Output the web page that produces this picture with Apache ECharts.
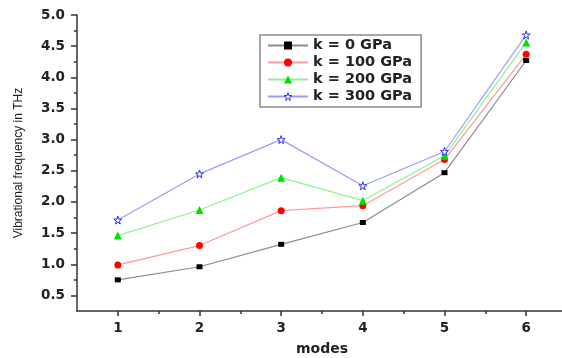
<!DOCTYPE html>
<html>
<head>
<meta charset="utf-8">
<script src="https://cdn.jsdelivr.net/npm/echarts@6/dist/echarts.min.js"></script>
<style>html,body{margin:0;padding:0;background:#fff;}#c{width:562px;height:358px;}</style>
</head>
<body>
<div id="c"></div>
<script>
var modes = [1, 2, 3, 4, 5, 6];
var k0 = [0.75, 0.96, 1.32, 1.67, 2.47, 4.27];
var k100 = [0.99, 1.30, 1.86, 1.94, 2.68, 4.37];
var k200 = [1.46, 1.87, 2.39, 2.02, 2.74, 4.56];
var k300 = [1.71, 2.45, 3.00, 2.26, 2.81, 4.68];
var seriesNames = ['k = 0 GPa', 'k = 100 GPa', 'k = 200 GPa', 'k = 300 GPa'];
var yMajor = [0.5, 1.0, 1.5, 2.0, 2.5, 3.0, 3.5, 4.0, 4.5, 5.0];
var yMinor = [0.75, 1.25, 1.75, 2.25, 2.75, 3.25, 3.75, 4.25, 4.75];
var xMajor = [1, 2, 3, 4, 5, 6];
var xMinor = [1.5, 2.5, 3.5, 4.5, 5.5];

function pairs(arr) { return modes.map(function (m, i) { return [m, arr[i]]; }); }
var star = 'path://M50,0 L61,35 L98,35 L68,57 L79,91 L50,70 L21,91 L32,57 L2,35 L39,35 Z';
var font = 'DejaVu Sans';
var axisCol = '#333';

function mk(name, data, symbol, size, lineCol, markCol, hollow) {
  return {
    name: name, type: 'line', data: pairs(data), xAxisIndex: 0, yAxisIndex: 0,
    symbol: symbol, symbolSize: size, showAllSymbol: true,
    lineStyle: { color: lineCol, width: 1.2 },
    itemStyle: hollow ? { color: '#fff', borderColor: markCol, borderWidth: 1 } : { color: markCol, borderWidth: 0 },
    emphasis: { disabled: true }, animation: false, z: 3
  };
}

var chart = echarts.init(document.getElementById('c'), null, { renderer: 'canvas' });
chart.setOption({
  animation: false,
  grid: { left: 77, top: 15, right: -5, bottom: 47, containLabel: false, outerBoundsMode: 'none' },
  legend: {
    orient: 'vertical', left: 260, top: 35,
    padding: [3, 9, 3, 7], itemGap: 2, itemWidth: 40, itemHeight: 10,
    borderColor: '#8a8a8a', borderWidth: 1.5, backgroundColor: '#fff',
    textStyle: { fontFamily: font, fontSize: 14.5, fontWeight: 'bold', color: '#222' },
    data: [
      { name: seriesNames[0] },
      { name: seriesNames[1] },
      { name: seriesNames[2] },
      { name: seriesNames[3], itemStyle: { borderWidth: 1, color: '#fff', borderColor: '#2a2aff' } }
    ]
  },
  xAxis: [{
    type: 'value', min: 0.5, max: 6.5, interval: 0.5,
    name: 'modes', nameLocation: 'middle', nameGap: 31,
    nameTextStyle: { fontFamily: font, fontSize: 14, fontWeight: 'bold', color: '#222' },
    axisLine: { show: true, onZero: false, lineStyle: { color: axisCol, width: 1.5 } },
    axisTick: { show: true, length: 5, customValues: xMajor, lineStyle: { color: axisCol, width: 1.5 } },
    axisLabel: { show: true, margin: 10, customValues: xMajor, fontFamily: font, fontSize: 13.5, fontWeight: 'bold', color: '#222' },
    splitLine: { show: false }
  }, {
    type: 'value', min: 0.5, max: 6.5, interval: 0.5, position: 'bottom',
    axisLine: { show: false, onZero: false },
    axisTick: { show: true, length: 3, customValues: xMinor, lineStyle: { color: axisCol, width: 1.5 } },
    axisLabel: { show: false }, splitLine: { show: false }
  }],
  yAxis: [{
    type: 'value', min: 0.25, max: 5.0, interval: 0.25,
    name: 'Vibrational frequency in THz', nameLocation: 'middle', nameGap: 52, nameRotate: 90,
    nameTextStyle: { fontFamily: 'Liberation Sans', fontSize: 12, color: '#222' },
    axisLine: { show: true, onZero: false, lineStyle: { color: axisCol, width: 1.5 } },
    axisTick: { show: true, length: 6, customValues: yMajor, lineStyle: { color: axisCol, width: 1.5 } },
    axisLabel: { show: true, margin: 12, customValues: yMajor, fontFamily: font, fontSize: 13.5, fontWeight: 'bold', color: '#222',
      formatter: function (v) { return v.toFixed(1); } },
    splitLine: { show: false }
  }, {
    type: 'value', min: 0.25, max: 5.0, interval: 0.25, position: 'left',
    axisLine: { show: false, onZero: false },
    axisTick: { show: true, length: 3, customValues: yMinor, lineStyle: { color: axisCol, width: 1.5 } },
    axisLabel: { show: false }, splitLine: { show: false }
  }],
  series: [
    mk(seriesNames[0], k0, 'rect', [6, 5], '#8c8c8c', '#000'),
    mk(seriesNames[1], k100, 'circle', 7, '#ff9a9a', '#ff0000'),
    mk(seriesNames[2], k200, 'triangle', 8, '#8cf58c', '#00e000'),
    mk(seriesNames[3], k300, star, 8, '#9a9aff', '#2a2aff', true)
  ]
});
</script>
</body>
</html>
